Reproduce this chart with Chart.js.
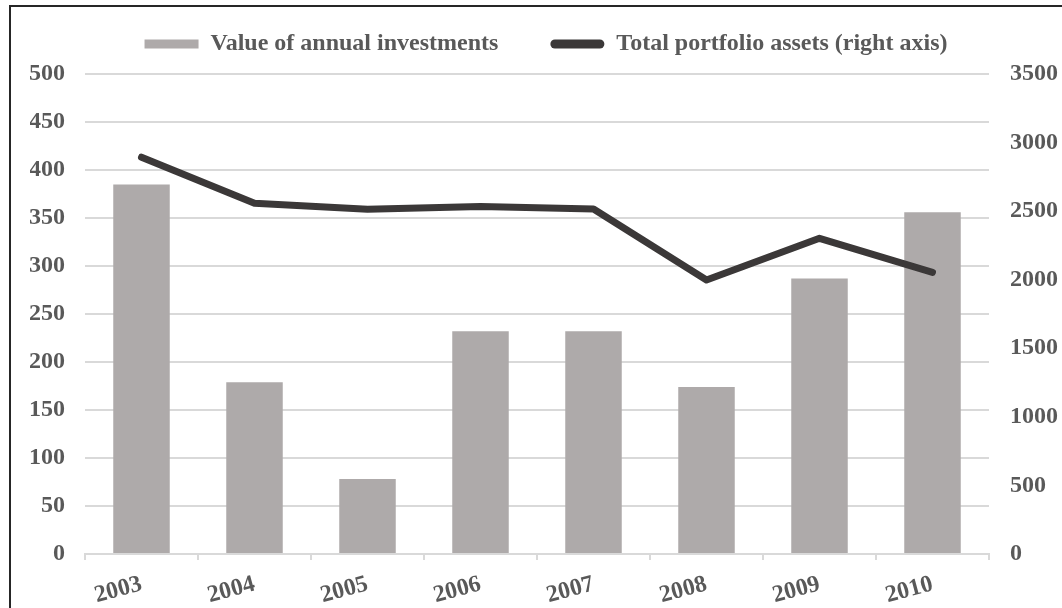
<!DOCTYPE html>
<html lang="en">
<head>
<meta charset="UTF-8">
<title>Annual investments and portfolio assets</title>
<script src="https://cdn.jsdelivr.net/npm/chart.js"></script>
<style>
  html, body { margin: 0; padding: 0; background: #fff; overflow: hidden; }
  #wrap { position: relative; width: 1062px; height: 608px; }
  #frame {
    position: absolute; left: 9px; top: 5px; width: 1070px; height: 620px;
    border: 2px solid #262626; pointer-events: none;
  }
</style>
</head>
<body>
<div id="wrap">
  <canvas id="investChart" width="1062" height="608"></canvas>
  <div id="frame"></div>
</div>
<script>
var years = ['2003', '2004', '2005', '2006', '2007', '2008', '2009', '2010'];
var annualInvestments = [385, 179, 78, 232, 232, 174, 287, 356];
var portfolioAssets = [2893, 2557, 2513, 2533, 2516, 1998, 2302, 2054];
var leftTicks = [0, 50, 100, 150, 200, 250, 300, 350, 400, 450, 500];
var rightTicks = [0, 500, 1000, 1500, 2000, 2500, 3000, 3500];

var labelColor = '#595959';
var gridColor = '#D9D9D9';
var serifBold = { family: '"Liberation Serif", "Times New Roman", serif', size: 24, weight: 'bold' };

// legend height is pinned so the plot area starts right below it
// (layout.padding.top is negative, so the legend takes that back)
var legendSpacer = {
  id: 'legendSpacer',
  beforeInit: function(chart) {
    var origFit = chart.legend.fit;
    chart.legend.fit = function() {
      origFit.bind(chart.legend)();
      this.height = 94;
    };
  }
};

function plainTick(value) {
  return String(value);
}

var ctx = document.getElementById('investChart').getContext('2d');
var chart = new Chart(ctx, {
  type: 'bar',
  data: {
    labels: years,
    datasets: [
      {
        label: 'Value of annual investments',
        data: annualInvestments,
        backgroundColor: '#AEAAAA',
        yAxisID: 'y',
        barPercentage: 0.5,
        categoryPercentage: 1.0,
        order: 1
      },
      {
        type: 'line',
        label: 'Total portfolio assets (right axis)',
        data: portfolioAssets,
        borderColor: '#3B3838',
        backgroundColor: '#3B3838',
        borderWidth: 7,
        borderCapStyle: 'round',
        borderJoinStyle: 'round',
        pointRadius: 0,
        tension: 0,
        fill: false,
        yAxisID: 'y1',
        order: 0
      }
    ]
  },
  options: {
    responsive: false,
    animation: false,
    layout: { padding: { left: 30, right: 0, top: -20, bottom: 0 } },
    plugins: {
      tooltip: { enabled: false },
      legend: {
        position: 'top',
        labels: {
          color: labelColor,
          font: serifBold,
          boxWidth: 54,
          boxHeight: 9,
          padding: 52,
          useBorderRadius: true,
          generateLabels: function(chart) {
            return chart.data.datasets.map(function(ds, i) {
              return {
                text: ds.label,
                fillStyle: ds.type === 'line' ? ds.borderColor : ds.backgroundColor,
                strokeStyle: 'rgba(0,0,0,0)',
                lineWidth: 0,
                borderRadius: ds.type === 'line' ? 4.5 : 0,
                fontColor: labelColor,
                datasetIndex: i,
                hidden: false
              };
            });
          }
        }
      }
    },
    scales: {
      x: {
        offset: true,
        grid: {
          offset: true,
          drawOnChartArea: false,
          drawTicks: true,
          tickLength: 6,
          color: gridColor,
          lineWidth: 2
        },
        border: { display: true, color: gridColor, width: 2 },
        ticks: {
          color: labelColor,
          font: serifBold,
          minRotation: 15,
          maxRotation: 15,
          padding: 10
        },
        afterFit: function(scale) { scale.height = 54; }
      },
      y: {
        position: 'left',
        min: 0,
        max: 500,
        afterBuildTicks: function(scale) {
          scale.ticks = leftTicks.map(function(v) { return { value: v }; });
        },
        grid: { color: gridColor, lineWidth: 2, drawTicks: false },
        border: { display: false },
        ticks: { color: labelColor, font: serifBold, padding: 20, callback: plainTick },
        afterFit: function(scale) { scale.width = 55; }
      },
      y1: {
        position: 'right',
        min: 0,
        max: 3500,
        afterBuildTicks: function(scale) {
          scale.ticks = rightTicks.map(function(v) { return { value: v }; });
        },
        grid: { display: false, drawOnChartArea: false, drawTicks: false },
        border: { display: false },
        ticks: { color: labelColor, font: serifBold, padding: 21, callback: plainTick },
        afterFit: function(scale) { scale.width = 73; }
      }
    }
  },
  plugins: [legendSpacer]
});
</script>
</body>
</html>
